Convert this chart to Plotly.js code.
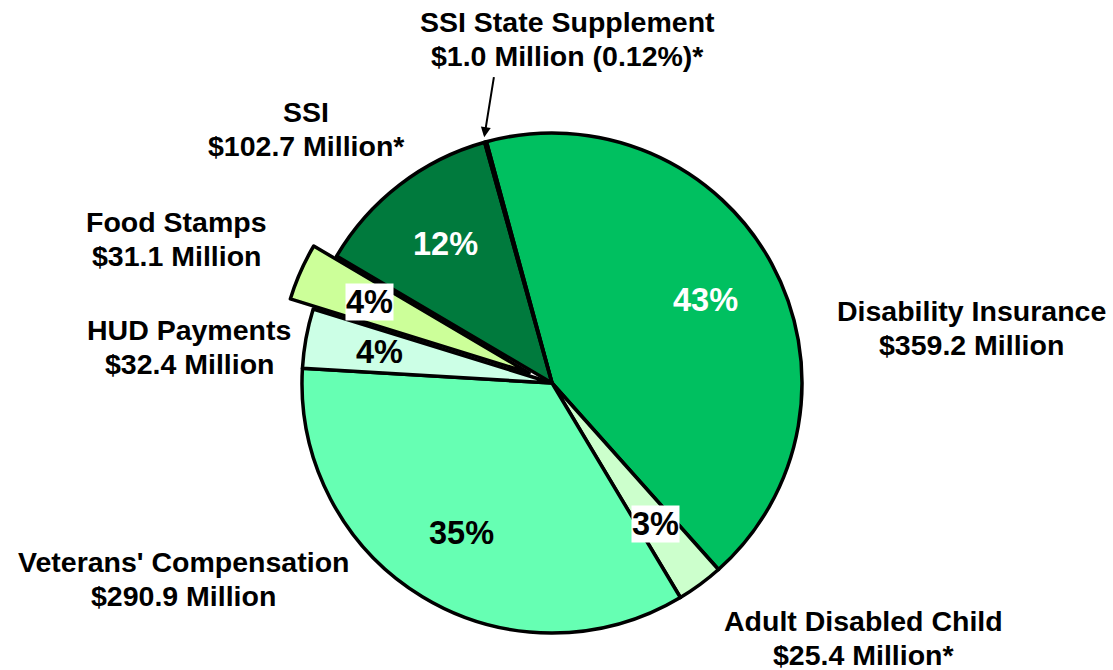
<!DOCTYPE html>
<html>
<head>
<meta charset="utf-8">
<script src="https://cdn.plot.ly/plotly-3.0.1.min.js"></script>
<style>
  html, body { margin: 0; padding: 0; background: #ffffff; }
  #chart { width: 1113px; height: 670px; }
</style>
</head>
<body>
<div id="chart"></div>
<script>
// ---- data ----
const categories = ["Disability Insurance", "Adult Disabled Child", "Veterans' Compensation",
                    "HUD Payments", "Food Stamps", "SSI", "SSI State Supplement"];
const amounts = [359.2, 25.4, 290.9, 32.4, 31.1, 102.7, 1.0];
const pctLabels = ["43%", "3%", "35%", "4%", "4%", "12%", ""];
const amountLabels = ["$359.2 Million", "$25.4 Million*", "$290.9 Million", "$32.4 Million",
                      "$31.1 Million", "$102.7 Million*", "$1.0 Million (0.12%)*"];
const pulled = ["Food Stamps"];

// ---- style / layout ----
const W = 1113, H = 670;
const CX = 552, CY = 383, R = 250;
const PULL = 0.1;
const ROT = -15.2;
const FONT = "Liberation Sans, Arial, Helvetica, sans-serif";
const colors = ["#00C060", "#CCFFCC", "#66FFB3", "#CCFFE6", "#CCFF99", "#007A3D", "#008040"];
const pctColors = ["#ffffff", "#000000", "#000000", "#000000", "#000000", "#ffffff", "#000000"];
const pctBg = [null, "#ffffff", null, null, "#ffffff", null, null];
// label line centres (pixels): [x, y of first line]
const labelPos = [[971, 311], [863, 621], [183, 562], [189, 330], [176, 222], [306, 112], [567, 22]];
const LINE_GAP = 34;
const LABEL_SIZE = 28.5;
const PCT_SIZE = 32.5;

const pulls = categories.map(c => pulled.includes(c) ? PULL : 0);
const half = R * (1 + PULL);
const domain = {
  x: [(CX - half) / W, (CX + half) / W],
  y: [(H - CY - half) / H, (H - CY + half) / H]
};

const total = amounts.reduce((a, b) => a + b, 0);
const px = x => x / W, py = y => 1 - y / H;

const annotations = [];
let cum = 0;
amounts.forEach((v, i) => {
  const mid = (ROT + 360 * (cum + v / 2) / total) * Math.PI / 180;
  cum += v;
  if (pctLabels[i]) {
    const r = 0.7 * R + pulls[i] * R;
    const x = CX + r * Math.sin(mid), y = CY - r * Math.cos(mid);
    const a = {
      xref: 'paper', yref: 'paper', x: px(x), y: py(y),
      text: '<b>' + pctLabels[i] + '</b>', showarrow: false,
      font: { family: FONT, size: PCT_SIZE, color: pctColors[i] },
      xanchor: 'center', yanchor: 'middle', borderpad: 0
    };
    if (pctBg[i]) a.bgcolor = pctBg[i];
    annotations.push(a);
  }
  // outside label, one annotation per line
  [categories[i], amountLabels[i]].forEach((line, k) => {
    annotations.push({
      xref: 'paper', yref: 'paper',
      x: px(labelPos[i][0]), y: py(labelPos[i][1] + k * LINE_GAP),
      text: '<b>' + line + '</b>', showarrow: false,
      font: { family: FONT, size: LABEL_SIZE, color: '#000000' },
      xanchor: 'center', yanchor: 'middle', align: 'center', borderpad: 0
    });
  });
  if (categories[i] === "SSI State Supplement") {
    const rr = R + 5;
    annotations.push({
      xref: 'paper', yref: 'paper',
      x: px(CX + rr * Math.sin(mid)), y: py(CY - rr * Math.cos(mid)),
      text: ' ', font: { size: 1 },
      showarrow: true, arrowhead: 2, arrowsize: 1, arrowwidth: 2, arrowcolor: '#000000',
      ax: 10, ay: -62, standoff: 0, startstandoff: 0
    });
  }
});

const trace = {
  type: 'pie',
  labels: categories,
  values: amounts,
  sort: false,
  direction: 'clockwise',
  rotation: ROT,
  pull: pulls,
  marker: { colors: colors, line: { color: '#000000', width: 3.5 } },
  textinfo: 'none',
  hoverinfo: 'skip',
  showlegend: false,
  domain: domain
};

const layout = {
  width: W, height: H,
  margin: { l: 0, r: 0, t: 0, b: 0 },
  paper_bgcolor: '#ffffff',
  plot_bgcolor: '#ffffff',
  showlegend: false,
  annotations: annotations
};

Plotly.newPlot('chart', [trace], layout, { displayModeBar: false, staticPlot: true });
</script>
</body>
</html>
